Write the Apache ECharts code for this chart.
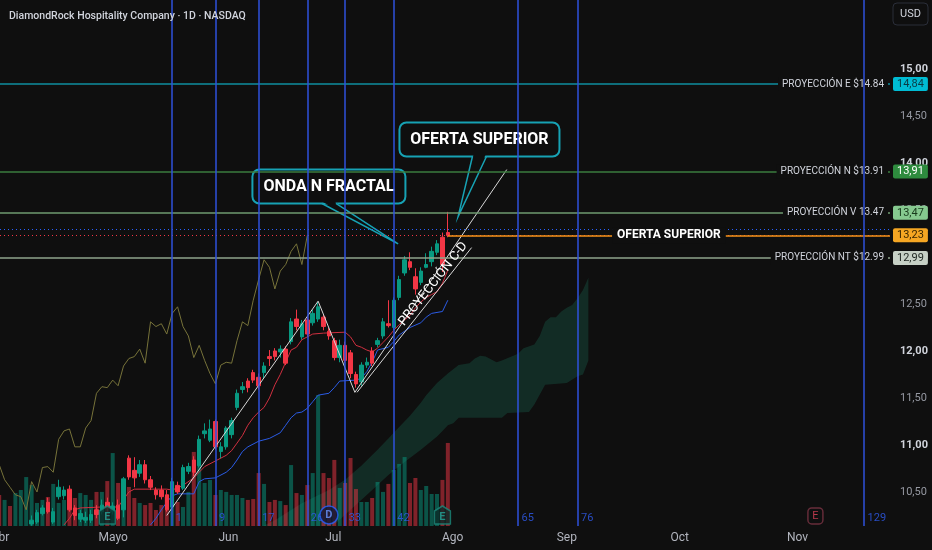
<!DOCTYPE html>
<html>
<head>
<meta charset="utf-8">
<title>DiamondRock Hospitality Company · 1D · NASDAQ</title>
<script src="https://cdn.jsdelivr.net/npm/echarts@6/dist/echarts.min.js"></script>
<style>
  html, body { margin: 0; padding: 0; background: #0f0f0f; }
  #chart { width: 932px; height: 550px; }
</style>
</head>
<body>
<div id="chart"></div>
<script>
// x = trading-day index, 1 = first time-zone line
var candleStart = -25;
// [open, close, low, high]
var ohlc = [
  [10.16, 10.20, 10.14, 10.25], [10.18, 10.28, 10.16, 10.31], [10.27, 10.33, 10.25, 10.36],
  [10.39, 10.29, 10.27, 10.44], [10.18, 10.29, 10.16, 10.33], [10.45, 10.55, 10.42, 10.63],
  [10.46, 10.52, 10.42, 10.56], [10.53, 10.31, 10.29, 10.57], [10.33, 10.25, 10.20, 10.36],
  [10.21, 10.27, 10.18, 10.31], [10.20, 10.23, 10.17, 10.29], [10.20, 10.26, 10.17, 10.31],
  [10.31, 10.26, 10.22, 10.36], [10.29, 10.36, 10.26, 10.42], [10.39, 10.33, 10.29, 10.44],
  [10.29, 10.35, 10.26, 10.39], [10.36, 10.22, 10.20, 10.42], [10.31, 10.64, 10.23, 10.66],
  [10.86, 10.66, 10.63, 10.89], [10.73, 10.65, 10.55, 10.87], [10.70, 10.79, 10.66, 10.84],
  [10.79, 10.63, 10.59, 10.84], [10.63, 10.55, 10.52, 10.67], [10.52, 10.47, 10.42, 10.55],
  [10.52, 10.45, 10.42, 10.57], [10.47, 10.31, 10.29, 10.52], [10.34, 10.61, 10.31, 10.65],
  [10.57, 10.50, 10.48, 10.61], [10.54, 10.76, 10.52, 10.79], [10.72, 10.77, 10.69, 10.81],
  [10.84, 10.71, 10.67, 10.88], [10.78, 11.06, 10.76, 11.10], [11.12, 11.15, 11.07, 11.23],
  [11.05, 11.17, 11.03, 11.27], [11.25, 10.98, 10.95, 11.27], [10.93, 10.98, 10.86, 11.03],
  [10.98, 11.18, 10.95, 11.20], [11.11, 11.26, 11.07, 11.29], [11.40, 11.55, 11.37, 11.59],
  [11.59, 11.62, 11.55, 11.67], [11.68, 11.61, 11.56, 11.71], [11.77, 11.69, 11.66, 11.80],
  [11.72, 11.63, 11.59, 11.76], [11.77, 11.84, 11.71, 11.88], [11.94, 11.92, 11.84, 12.01],
  [12.00, 11.94, 11.90, 12.03], [11.99, 12.02, 11.93, 12.06], [12.02, 11.87, 11.85, 12.05],
  [12.10, 12.31, 12.07, 12.35], [12.34, 12.26, 12.22, 12.44], [12.15, 12.29, 12.12, 12.33],
  [12.33, 12.18, 12.15, 12.36], [12.30, 12.40, 12.27, 12.44], [12.34, 12.47, 12.31, 12.52],
  [12.36, 12.26, 12.22, 12.39], [12.21, 12.16, 12.12, 12.25], [12.11, 11.93, 11.90, 12.14],
  [11.93, 12.06, 11.88, 12.12], [12.06, 11.90, 11.87, 12.10], [11.98, 11.76, 11.71, 12.01],
  [11.75, 11.65, 11.61, 11.78], [11.67, 11.85, 11.63, 11.88], [11.85, 11.88, 11.82, 11.93],
  [12.00, 11.87, 11.84, 12.04], [12.07, 12.11, 12.04, 12.14], [12.16, 12.31, 12.13, 12.35],
  [12.29, 12.27, 12.25, 12.54], [12.25, 12.54, 12.22, 12.57], [12.57, 12.76, 12.54, 12.80],
  [12.83, 12.97, 12.80, 13.01], [12.95, 12.89, 12.86, 13.05], [12.79, 12.66, 12.60, 12.88],
  [12.73, 12.85, 12.70, 12.89], [12.89, 12.92, 12.88, 13.04], [12.95, 13.06, 12.90, 13.11],
  [13.05, 13.14, 13.02, 13.18], [13.21, 12.92, 12.84, 13.26], [13.26, 13.23, 13.21, 13.48]
];

var volumeStart = -31;
// millions of shares
var volume = [
  1.94, 1.63, 1.25, 2.06, 2.25, 3.06,
  2.56, 1.44, 1.63, 1.81, 2.63, 1.44, 1.63, 1.13, 1.75, 2.06,
  1.94, 1.63, 2.13, 2.13, 2.81, 4.56, 2.69, 2.44, 2.44, 1.75,
  1.44, 1.31, 1.44, 1.00, 1.31, 1.81, 2.75, 1.50, 1.19, 2.13,
  4.63, 4.06, 2.69, 2.88, 1.94, 2.25, 2.13, 1.94, 1.94, 1.75,
  1.63, 1.69, 3.31, 2.63, 1.50, 1.63, 1.56, 1.31, 3.81, 2.06,
  1.94, 2.56, 3.31, 8.19, 3.31, 3.00, 4.13, 2.38, 2.69, 4.25,
  2.31, 1.50, 1.50, 1.75, 2.75, 2.13, 2.63, 3.50, 3.88, 4.31,
  2.69, 3.00, 2.25, 2.50, 2.00, 2.00, 2.88, 5.19
];
// up/down of the volume bars before the first visible candle
var volumeEarlyUp = [0, 1, 0, 1, 1, 1];

// ichimoku lines: [index, price]
var tenkan = [[-19,10.15],[-18,10.22],[-17,10.31],[-16,10.33],[-12,10.34],[-9,10.34],[-8,10.42],[-7,10.50],[-6,10.53],[0,10.53],[1,10.52],[3,10.57],[5,10.65],[7,10.77],[9,10.83],[11,10.89],[12,10.94],[13,11.02],[14,11.10],[15,11.21],[16,11.29],[17,11.35],[18,11.40],[19,11.50],[20,11.64],[21,11.75],[22,11.88],[23,12.01],[24,12.04],[25,12.12],[26,12.15],[27,12.18],[29,12.19],[33,12.20],[34,12.15],[35,12.06],[36,12.04],[37,12.01],[38,11.99],[39,12.03],[40,12.09],[41,12.15],[42,12.22],[43,12.28],[44,12.33],[45,12.38],[46,12.46],[47,12.52],[48,12.57],[49,12.60],[50,12.63],[51,12.72],[52,12.86]];
var kijun = [[-3,10.15],[-2,10.22],[-1,10.31],[0,10.39],[1,10.46],[2,10.48],[5,10.48],[6,10.61],[7,10.64],[9,10.65],[11,10.71],[12,10.76],[13,10.84],[14,10.93],[15,10.98],[17,11.04],[19,11.07],[21,11.13],[22,11.21],[23,11.29],[24,11.34],[25,11.35],[26,11.39],[27,11.46],[28,11.53],[30,11.55],[31,11.61],[32,11.68],[35,11.69],[36,11.71],[37,11.78],[38,11.88],[39,12.01],[41,12.04],[42,12.10],[43,12.17],[45,12.25],[47,12.30],[48,12.36],[49,12.40],[51,12.42],[52,12.54]];
var lagShift = 26;
var cloudUpper = [[16.5,10.10],[20,10.20],[25,10.38],[30,10.52],[33,10.63],[36,10.78],[39,10.95],[41,11.07],[43,11.19],[45,11.31],[47,11.45],[48,11.53],[50,11.66],[51,11.71],[52,11.76],[54,11.85],[56,11.87],[57,11.92],[58,11.95],[59,11.94],[61,11.88],[62,11.90],[65,11.97],[66,12.03],[68,12.07],[69,12.16],[70,12.31],[71,12.36],[72,12.36],[73,12.42],[74,12.46],[75,12.49],[76,12.56],[77,12.65],[78,12.78]];
var cloudLower = [[16.5,9.90],[30,10.10],[34,10.31],[38,10.52],[41,10.68],[44,10.82],[47,10.95],[50,11.09],[51,11.15],[52,11.21],[53,11.23],[54,11.29],[62,11.29],[63,11.34],[67,11.35],[68,11.43],[70,11.64],[74,11.66],[76,11.73],[77,11.75],[78,11.90]];

// drawings
var nWave = [[0.0,10.25],[28.0,12.53],[34.8,11.56],[62.9,13.93]];
var cdLine = [[35.2,11.56],[56.4,13.10]];
var cdLabel = 'PROYECCIÓN C-D';
var levelValues = [14.84, 13.91, 13.47, 12.99];
var levelNames = ['PROYECCIÓN E $14.84', 'PROYECCIÓN N $13.91', 'PROYECCIÓN V 13.47', 'PROYECCIÓN NT $12.99'];
var offerStart = 52;
var offerValue = 13.23;
var offerName = 'OFERTA SUPERIOR';
var lastPrice = 13.23;
var extPrice = 13.30;
var calloutText = ['ONDA N FRACTAL', 'OFERTA SUPERIOR'];
var calloutBox = [[30.0, 13.75], [57.85, 14.25]];
var calloutTip = [[42.8, 13.14], [53.9, 13.43]];
var timeZones = [1, 9, 17, 26, 33, 42, 65, 76, 129];
var earningsPast = [-11, 51];
var dividends = [30];
var earningsNext = [120];

// axes
var monthNames = ['Abr', 'Mayo', 'Jun', 'Jul', 'Ago', 'Sep', 'Oct', 'Nov'];
var monthPos = [-30.85, -9.9, 11.4, 30.8, 52.9, 74.0, 94.9, 116.7];
var priceTicks = [10.5, 11, 11.5, 12, 12.5, 13, 13.5, 14, 14.5, 15];

var xMin = -30.85, xMax = 133.8;
var yMin = 10.138, yMax = 15.734;

var bg = '#0f0f0f';
var upColor = '#089981';
var downColor = '#f23645';
var teal = '#17a2b4';
var levelStyle = [
  { line: '#0f8fa0', tag: '#00bcd4', text: '#0b3a44' },
  { line: '#3b7d3f', tag: '#2e8b3e', text: '#ffffff' },
  { line: '#6f9b70', tag: '#86c98f', text: '#183a1c' },
  { line: '#8fa58d', tag: '#c6d0c5', text: '#1e2620' }
];
var fontFamily = 'Roboto, "Noto Sans", sans-serif';
var hidden = { color: 'rgba(0,0,0,0)', width: 0 };

function comma(v) { return v.toFixed(2).replace('.', ','); }

var candleData = ohlc.map(function (c, k) {
  return [candleStart + k, c[0], c[1], c[2], c[3]];
});
var chikouData = ohlc.map(function (c, k) {
  return [candleStart + k - lagShift, c[1]];
});
var volumeData = volume.map(function (v, k) {
  var i = volumeStart + k;
  var c = ohlc[i - candleStart];
  var up = c ? c[1] >= c[0] : volumeEarlyUp[k] === 1;
  return { value: [i, v], itemStyle: { color: up ? 'rgba(8,153,129,0.5)' : 'rgba(242,54,69,0.5)' } };
});

var measureCtx = document.createElement('canvas').getContext('2d');
var calloutFont = 'bold 16px Roboto';
measureCtx.font = calloutFont;

// horizontal levels
var levelLines = [];
levelValues.forEach(function (v, k) {
  levelLines.push({
    yAxis: v,
    lineStyle: { color: levelStyle[k].line, width: 1.5, type: 'solid' },
    label: {
      show: true, position: 'insideEnd', formatter: levelNames[k], distance: 2,
      color: '#d1d4dc', fontSize: 10, backgroundColor: bg, padding: [2, 4]
    }
  });
  levelLines.push({
    yAxis: v,
    lineStyle: hidden,
    label: {
      show: true, position: 'end', formatter: comma(v), distance: 3,
      backgroundColor: levelStyle[k].tag, color: levelStyle[k].text,
      fontSize: 11, padding: [2, 4, 1, 4], borderRadius: 2
    }
  });
});
levelLines.push({ yAxis: extPrice, lineStyle: { color: '#2962ff', width: 1, type: [1, 3] }, label: { show: false } });
levelLines.push({ yAxis: lastPrice, lineStyle: { color: downColor, width: 1, type: [1, 3] }, label: { show: false } });
levelLines.push([
  {
    coord: [offerStart, offerValue],
    lineStyle: { color: '#f7931a', width: 1.5, type: 'solid' },
    label: {
      show: true, position: 'insideMiddle', formatter: offerName,
      color: '#ffffff', fontSize: 12, fontWeight: 'bold', backgroundColor: bg, padding: [2, 5]
    }
  },
  { coord: [xMax, offerValue] }
]);
levelLines.push({
  yAxis: offerValue,
  lineStyle: hidden,
  label: {
    show: true, position: 'end', formatter: comma(offerValue), distance: 3,
    backgroundColor: '#f5a623', color: '#3a2600', fontSize: 11, padding: [2, 4, 1, 4], borderRadius: 2
  }
});
levelLines.push([
  {
    coord: cdLine[0],
    lineStyle: { color: '#d8d8d8', width: 1, type: 'solid' },
    label: {
      show: true, position: 'insideEndTop', formatter: cdLabel, distance: 1,
      color: '#ffffff', fontSize: 13
    }
  },
  { coord: cdLine[1] }
]);

var option = {
  backgroundColor: bg,
  animation: false,
  textStyle: { fontFamily: fontFamily },
  title: {
    text: 'DiamondRock Hospitality Company · 1D · NASDAQ',
    left: 4, top: 6,
    textStyle: { color: '#d1d4dc', fontSize: 10.5, fontWeight: 500, fontFamily: fontFamily }
  },
  graphic: [
    { type: 'rect', shape: { x: 893, y: 3, width: 35, height: 22, r: 4 }, style: { fill: 'transparent', stroke: '#2a2e39', lineWidth: 1 } },
    { type: 'text', x: 910.5, y: 14, style: { text: 'USD', fill: '#d1d4dc', fontSize: 11, fontFamily: fontFamily, align: 'center', verticalAlign: 'middle' } }
  ],
  grid: { left: 0, right: 42, top: 0, bottom: 24, outerBoundsMode: 'none', containLabel: false },
  xAxis: {
    type: 'value', min: xMin, max: xMax,
    axisLine: { show: false }, axisTick: { show: false }, splitLine: { show: false },
    axisLabel: {
      customValues: monthPos,
      formatter: function (v) {
        var k = monthPos.indexOf(v);
        return k >= 0 ? monthNames[k] : '';
      },
      color: '#b2b5be', fontSize: 12, margin: 6
    }
  },
  yAxis: [
    {
      type: 'value', position: 'right', min: yMin, max: yMax,
      axisLine: { show: false }, axisTick: { show: false }, splitLine: { show: false },
      axisLabel: {
        customValues: priceTicks,
        formatter: function (v) { return (v % 1 === 0 ? '{b|' : '{n|') + comma(v) + '}'; },
        margin: 10,
        rich: {
          b: { color: '#d1d4dc', fontSize: 11, fontWeight: 'bold' },
          n: { color: '#9598a1', fontSize: 11 }
        }
      }
    },
    { type: 'value', min: 0, max: 32.875, show: false }
  ],
  series: [
    {
      name: 'cloud', type: 'custom', z: 1, clip: true, silent: true,
      data: [[cloudUpper[0][0], cloudUpper[0][1]]],
      renderItem: function (params, api) {
        var pts = cloudUpper.map(function (p) { return api.coord(p); });
        for (var k = cloudLower.length - 1; k >= 0; k--) pts.push(api.coord(cloudLower[k]));
        return { type: 'polygon', shape: { points: pts }, style: { fill: 'rgba(34,150,120,0.22)' } };
      }
    },
    {
      name: 'volume', type: 'bar', xAxisIndex: 0, yAxisIndex: 1, barWidth: 4, z: 2,
      data: volumeData, silent: true
    },
    {
      name: 'chikou', type: 'line', data: chikouData, symbol: 'none', z: 2, silent: true,
      lineStyle: { color: '#77733a', width: 1 }
    },
    {
      name: 'tenkan', type: 'line', data: tenkan, symbol: 'none', z: 2, silent: true,
      lineStyle: { color: '#d03040', width: 1 }
    },
    {
      name: 'kijun', type: 'line', data: kijun, symbol: 'none', z: 2, silent: true,
      lineStyle: { color: '#2b5ce6', width: 1 }
    },
    {
      name: 'price', type: 'candlestick', data: candleData, barWidth: 4, z: 3,
      encode: { x: 0, y: [1, 2, 3, 4] },
      itemStyle: { color: upColor, color0: downColor, borderColor: upColor, borderColor0: downColor, borderWidth: 1 }
    },
    {
      name: 'nwave', type: 'line', data: nWave, symbol: 'none', z: 4, silent: true,
      lineStyle: { color: '#d8d8d8', width: 1 },
      markLine: { silent: true, symbol: ['none', 'none'], z: 5, data: levelLines }
    },
    {
      name: 'callouts', type: 'custom', z: 4, silent: true,
      data: calloutBox.map(function (b, k) { return [b[0], b[1], calloutTip[k][0], calloutTip[k][1]]; }),
      encode: { x: [0, 2], y: [1, 3] },
      renderItem: function (params, api) {
        var text = calloutText[params.dataIndex];
        var c = api.coord([api.value(0), api.value(1)]);
        var t = api.coord([api.value(2), api.value(3)]);
        var w = Math.round(measureCtx.measureText(text).width) + 22;
        var h = 34;
        var bottom = c[1] + h / 2;
        return {
          type: 'group',
          children: [
            { type: 'rect', shape: { x: c[0] - w / 2, y: c[1] - h / 2, width: w, height: h, r: 7 },
              style: { fill: bg, stroke: teal, lineWidth: 2 } },
            { type: 'polygon', shape: { points: [[c[0] - 6, bottom - 1.5], [t[0], t[1]], [c[0] + 6, bottom - 1.5]] },
              style: { fill: bg } },
            { type: 'polyline', shape: { points: [[c[0] - 7, bottom], [t[0], t[1]], [c[0] + 7, bottom]] },
              style: { fill: 'none', stroke: teal, lineWidth: 1.5 } },
            { type: 'text', style: { text: text, x: c[0], y: c[1] + 1, align: 'center', verticalAlign: 'middle', fill: '#ffffff', font: calloutFont } }
          ]
        };
      }
    },
    {
      name: 'zones', type: 'scatter', z: 6, silent: true, symbolSize: 1,
      itemStyle: { color: 'transparent' },
      data: timeZones.map(function (v) { return [v, 10.22]; }),
      label: {
        show: true, position: 'right', distance: 3, color: '#2f5cf0', fontSize: 11,
        formatter: function (p) { return String(p.value[0]); }
      },
      markLine: {
        silent: true, symbol: ['none', 'none'], z: 6,
        lineStyle: { color: '#2f52dc', width: 1.5, type: 'solid' },
        label: { show: false },
        data: timeZones.map(function (v) { return { xAxis: v }; })
      }
    },
    {
      name: 'earnings', type: 'scatter', z: 7, silent: true,
      symbol: 'path://M8 0 L16 5 L16 18 L0 18 L0 5 Z', symbolSize: [16, 18],
      itemStyle: { color: '#0b2b28', borderColor: '#1b8a7c', borderWidth: 1.5 },
      data: earningsPast.map(function (v) { return [v, 10.255]; }),
      label: { show: true, position: 'inside', formatter: 'E', color: '#26a69a', fontSize: 11, fontWeight: 'bold', offset: [0, 2] }
    },
    {
      name: 'dividends', type: 'scatter', z: 7, silent: true,
      symbol: 'circle', symbolSize: 18,
      itemStyle: { color: '#0e1838', borderColor: '#2962ff', borderWidth: 1.5 },
      data: dividends.map(function (v) { return [v, 10.255]; }),
      label: { show: true, position: 'inside', formatter: 'D', color: '#6d93ff', fontSize: 11, fontWeight: 'bold' }
    },
    {
      name: 'nextEarnings', type: 'scatter', z: 7, silent: true,
      symbol: 'roundRect', symbolSize: [15, 16],
      itemStyle: { color: bg, borderColor: '#7d3545', borderWidth: 1.5 },
      data: earningsNext.map(function (v) { return [v, 10.245]; }),
      label: { show: true, position: 'inside', formatter: 'E', color: '#e0435a', fontSize: 11 }
    }
  ]
};

var chart = echarts.init(document.getElementById('chart'));
chart.setOption(option);
</script>
</body>
</html>
